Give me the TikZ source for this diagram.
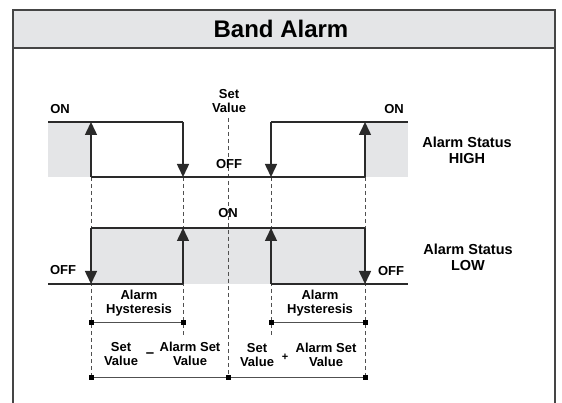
\documentclass[tikz,border=0pt]{standalone}
\usepackage{fontspec}
\setmainfont{Liberation Sans}
\usetikzlibrary{arrows.meta}
\definecolor{bandgray}{HTML}{E4E5E7}
\definecolor{linecol}{HTML}{2A2A2A}
\definecolor{framecol}{HTML}{454545}
\definecolor{dashcol}{HTML}{505050}
\tikzset{
  wave/.style={draw=linecol, line width=1.5pt},
  warrow/.style={draw=linecol, line width=1.5pt, -{Triangle[width=12pt,length=13pt]}},
  guide/.style={draw=dashcol, line width=0.8pt, dash pattern=on 4pt off 3pt},
  meas/.style={draw=dashcol, line width=1pt},
  endsq/.style={fill=black, draw=none, minimum size=5pt, inner sep=0pt, rectangle},
  lbl/.style={font=\bfseries\fontsize{13}{14}\selectfont, text=black, inner sep=0pt, align=center},
  biglbl/.style={font=\bfseries\fontsize{14.5}{16}\selectfont, text=black, inner sep=0pt, align=center},
}
\begin{document}
\begin{tikzpicture}[x=1pt,y=-1pt]
\useasboundingbox (0,0) rectangle (562,403);
% frame and title band
\fill[bandgray] (13,10) rectangle (555,48);
\draw[framecol, line width=2pt] (13,403) -- (13,10) -- (555,10) -- (555,403);
\draw[framecol, line width=2pt] (13,48) -- (555,48);
\node[font=\bfseries\fontsize{24}{26}\selectfont, inner sep=0pt] (title) at (281,29) {Band Alarm};

% named coordinates
\coordinate (xa) at (48,0);
\foreach \n/\x in {L/48, A/91, B/183, S/228, C/271, D/365, R/408} {
  \coordinate (h\n) at (\x,122);  % HIGH on level
  \coordinate (f\n) at (\x,177);  % HIGH off level
  \coordinate (n\n) at (\x,228);  % LOW on level
  \coordinate (o\n) at (\x,284);  % LOW off level
  \coordinate (m\n) at (\x,322);  % hysteresis measure
  \coordinate (e\n) at (\x,337);  % end of short guide
  \coordinate (b\n) at (\x,377);  % bottom measure
}
\coordinate (sTop) at (228,118);

% gray shading
\fill[bandgray] (hL) rectangle (fA);
\fill[bandgray] (hD) rectangle (fR);
\fill[bandgray] (nA) rectangle (oD);

% dashed guides
\draw[guide] (sTop) -- (bS);
\draw[guide] (fA) -- (bA);
\draw[guide] (fB) -- (eB);
\draw[guide] (fC) -- (eC);
\draw[guide] (fD) -- (bD);

% HIGH waveform
\draw[wave] (hL) -- (hB);
\draw[wave] (fA) -- (fD);
\draw[wave] (hC) -- (hR);
\draw[warrow] (hB) -- (fB);
\draw[warrow] (fA) -- (hA);
\draw[warrow] (hC) -- (fC);
\draw[warrow] (fD) -- (hD);

% LOW waveform
\draw[wave] (oL) -- (oB);
\draw[wave] (nA) -- (nD);
\draw[wave] (oC) -- (oR);
\draw[warrow] (nA) -- (oA);
\draw[warrow] (oB) -- (nB);
\draw[warrow] (oC) -- (nC);
\draw[warrow] (nD) -- (oD);

% measurement lines
\draw[meas] (mA) -- (mB);
\draw[meas] (mC) -- (mD);
\draw[meas] (bA) -- (bD);
\node[endsq] (sq1) at (mA) {};
\node[endsq] (sq2) at (mB) {};
\node[endsq] (sq3) at (mC) {};
\node[endsq] (sq4) at (mD) {};
\node[endsq] (sq5) at (bA) {};
\node[endsq] (sq6) at (bS) {};
\node[endsq] (sq7) at (bD) {};

% labels
\node[lbl] (onHL) at (60,109) {ON};
\node[lbl] (onHR) at (394,109) {ON};
\node[lbl] (setv) at (229,101) {Set\\Value};
\node[lbl] (offH) at (229,164) {OFF};
\node[biglbl] (high) at (467,150) {Alarm Status\\HIGH};
\node[lbl] (onL) at (228,213) {ON};
\node[lbl] (offLL) at (63,270) {OFF};
\node[lbl] (offLR) at (391,271) {OFF};
\node[biglbl] (low) at (468,257) {Alarm Status\\LOW};
\node[lbl] (hys1) at (139,303) {Alarm\\Hysteresis};
\node[lbl] (hys2) at (320,303) {Alarm\\Hysteresis};
\node[lbl] (sv1) at (121,354) {Set\\Value};
\node[lbl] (minus) at (150,355) {\fontsize{15}{15}\selectfont –};
\node[lbl] (as1) at (190,354) {Alarm Set\\Value};
\node[lbl] (sv2) at (257,355) {Set\\Value};
\node[lbl] (plus) at (285,357) {\fontsize{11}{11}\selectfont +};
\node[lbl] (as2) at (326,355) {Alarm Set\\Value};
\end{tikzpicture}
\end{document}
